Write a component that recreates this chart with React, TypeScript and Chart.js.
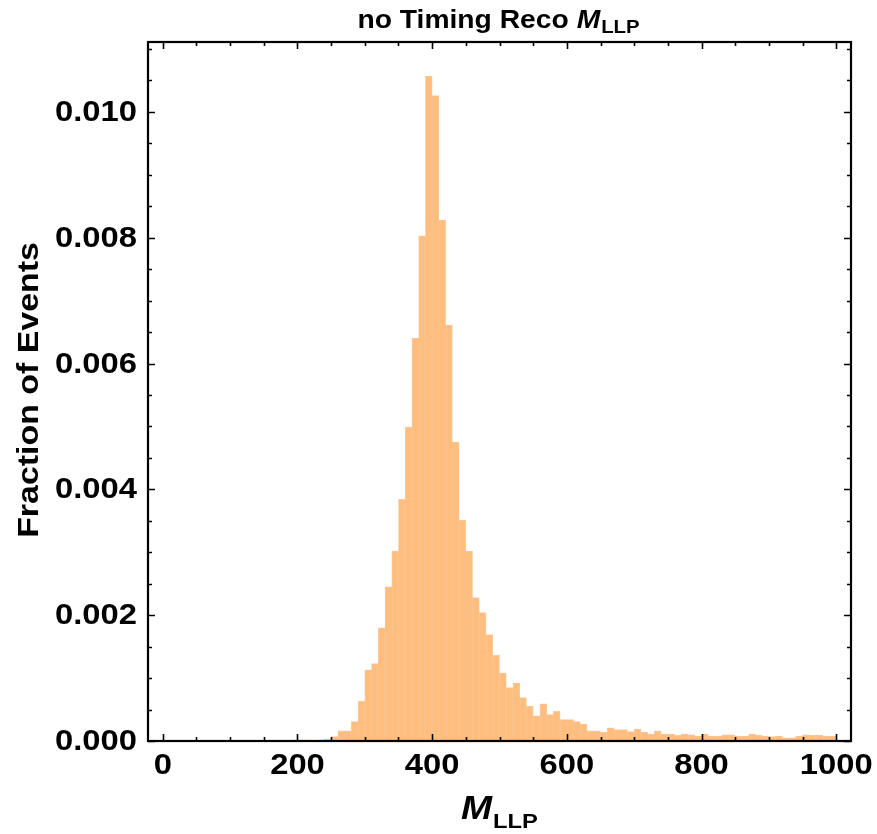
import React, { useEffect, useRef } from "react";
import { Chart, registerables } from "chart.js";

Chart.register(...registerables);

// Histogram bins: width 10, starting at FIRST_BIN
const BIN_WIDTH = 10;
const FIRST_BIN = 190;
const FRACTIONS = [
  0.00002, 0.00002, 0.00002, 0.0, 0.00002, 0.00003, 0.00007, 0.00016, 0.00016, 0.00031,
  0.00063, 0.00113, 0.00123, 0.0018, 0.00245, 0.00302, 0.00384, 0.00499, 0.0064, 0.00803,
  0.01057, 0.01026, 0.00828, 0.00661, 0.00475, 0.00351, 0.00302, 0.00228, 0.00204, 0.00169,
  0.00136, 0.00108, 0.00085, 0.00092, 0.00069, 0.00055, 0.0004, 0.00059, 0.00042, 0.00047,
  0.00034, 0.00034, 0.00031, 0.00027, 0.00016, 0.00016, 0.00014, 0.00021, 0.00018, 0.00018,
  0.00015, 0.00019, 0.00014, 0.00011, 0.00016, 0.00011, 0.00011, 0.00009, 0.00011, 0.0001,
  0.00008, 0.00011, 0.00008, 0.00008, 0.0001, 0.0001, 0.00008, 0.00008, 0.00011, 0.00009,
  0.00008, 0.00007, 0.00008, 0.00005, 0.00005, 0.00008, 0.0001, 0.00009, 0.00009, 0.00008,
  0.00008,
];

const X_TICKS = [0, 200, 400, 600, 800, 1000];
const Y_TICKS = [0, 0.002, 0.004, 0.006, 0.008, 0.01];
const X_MINOR_STEP = 50;
const Y_MINOR_STEP = 0.0005;

const TITLE_MAIN = "no Timing Reco ";
const SYM_M = "M";
const SYM_SUB = "LLP";
const Y_TITLE = "Fraction of Events";

const FONT = "'Liberation Sans', Arial, sans-serif";
const STRETCH = 1.13;

function stretchedText(ctx: CanvasRenderingContext2D, text: string, x: number, y: number, font: string, align: "left" | "right" | "center", sx: number) {
  ctx.save();
  ctx.font = font;
  const w = ctx.measureText(text).width * sx;
  let x0 = x;
  if (align === "center") x0 = x - w / 2;
  else if (align === "right") x0 = x - w;
  ctx.translate(x0, y);
  ctx.scale(sx, 1);
  ctx.textAlign = "left";
  ctx.fillText(text, 0, 0);
  ctx.restore();
  return w;
}

function measure(ctx: CanvasRenderingContext2D, text: string, font: string, sx: number) {
  ctx.save();
  ctx.font = font;
  const w = ctx.measureText(text).width * sx;
  ctx.restore();
  return w;
}

const framePlugin = {
  id: "mmaFrame",
  afterDatasetsDraw(chart: any) {
    const { ctx, chartArea, scales } = chart;
    const { left, right, top, bottom } = chartArea;
    const xs = scales.x;
    const ys = scales.y;
    ctx.save();
    ctx.fillStyle = "#000";
    ctx.strokeStyle = "#000";

    // ticks
    ctx.lineWidth = 1.6;
    const major = 7;
    const minor = 4;
    for (let v = 0; v <= 1000 + 1e-9; v += X_MINOR_STEP) {
      const px = Math.round(xs.getPixelForValue(v)) + 0.5;
      const len = X_TICKS.includes(v) ? major : minor;
      ctx.beginPath();
      ctx.moveTo(px, bottom);
      ctx.lineTo(px, bottom - len);
      ctx.moveTo(px, top);
      ctx.lineTo(px, top + len);
      ctx.stroke();
    }
    for (let i = 0; i <= 22; i++) {
      const v = i * Y_MINOR_STEP;
      const py = Math.round(ys.getPixelForValue(v)) + 0.5;
      if (py < top + 2) continue;
      const len = i % 4 === 0 ? major : minor;
      ctx.beginPath();
      ctx.moveTo(left, py);
      ctx.lineTo(left + len, py);
      ctx.moveTo(right, py);
      ctx.lineTo(right - len, py);
      ctx.stroke();
    }

    // frame
    ctx.lineWidth = 2.2;
    ctx.strokeRect(left, top, right - left, bottom - top);

    // tick labels
    const tickFont = `bold 29px ${FONT}`;
    ctx.textBaseline = "middle";
    for (const v of X_TICKS) {
      stretchedText(ctx, String(v), xs.getPixelForValue(v), bottom + 25, tickFont, "center", STRETCH);
    }
    for (const v of Y_TICKS) {
      stretchedText(ctx, v.toFixed(3), left - 11, ys.getPixelForValue(v) + 1, tickFont, "right", STRETCH);
    }

    // y title
    ctx.save();
    ctx.translate(30, 390);
    ctx.rotate(-Math.PI / 2);
    ctx.textBaseline = "middle";
    stretchedText(ctx, Y_TITLE, 0, 0, `bold 30px ${FONT}`, "center", STRETCH);
    ctx.restore();

    // x title: M_LLP
    ctx.textBaseline = "alphabetic";
    const mFont = `italic bold 33px ${FONT}`;
    const sFont = `bold 21px ${FONT}`;
    const wM = measure(ctx, SYM_M, mFont, STRETCH);
    const wS = measure(ctx, SYM_SUB, sFont, STRETCH);
    let xx = 499 - (wM + wS) / 2;
    stretchedText(ctx, SYM_M, xx, 819, mFont, "left", STRETCH);
    stretchedText(ctx, SYM_SUB, xx + wM + 1, 828, sFont, "left", STRETCH);

    // title
    const tFont = `bold 25px ${FONT}`;
    const tmFont = `italic bold 25px ${FONT}`;
    const tsFont = `bold 18px ${FONT}`;
    const w1 = measure(ctx, TITLE_MAIN, tFont, STRETCH);
    const w2 = measure(ctx, SYM_M, tmFont, STRETCH);
    const w3 = measure(ctx, SYM_SUB, tsFont, STRETCH);
    xx = 498 - (w1 + w2 + w3) / 2;
    stretchedText(ctx, TITLE_MAIN, xx, 28, tFont, "left", STRETCH);
    stretchedText(ctx, SYM_M, xx + w1, 28, tmFont, "left", STRETCH);
    stretchedText(ctx, SYM_SUB, xx + w1 + w2 + 1, 33, tsFont, "left", STRETCH);

    ctx.restore();
  },
};

export default function App() {
  const ref = useRef<HTMLCanvasElement>(null);
  useEffect(() => {
    if (!ref.current) return;
    const points = FRACTIONS.map((v, i) => ({ x: FIRST_BIN + i * BIN_WIDTH + BIN_WIDTH / 2, y: v }));
    const chart = new Chart(ref.current, {
      type: "bar",
      data: {
        datasets: [
          {
            data: points as any,
            backgroundColor: "rgb(255,190,125)",
            borderColor: "rgba(240,160,85,0.55)",
            borderWidth: 0.8,
            barPercentage: 1,
            categoryPercentage: 1,
          },
        ],
      },
      options: {
        responsive: false,
        animation: false,
        devicePixelRatio: 1,
        layout: { padding: { left: 0, top: 42, right: 26, bottom: 0 } },
        plugins: { legend: { display: false }, tooltip: { enabled: false }, title: { display: false } },
        scales: {
          x: {
            type: "linear",
            min: -22,
            max: 1022,
            offset: false,
            grid: { display: false, offset: false },
            border: { display: false },
            ticks: { display: false },
            afterFit: (s: any) => {
              s.height = 93;
            },
          },
          y: {
            type: "linear",
            min: 0,
            max: 0.01111,
            grid: { display: false },
            border: { display: false },
            ticks: { display: false },
            afterFit: (s: any) => {
              s.width = 148;
            },
          },
        },
      },
      plugins: [framePlugin],
    });
    return () => chart.destroy();
  }, []);
  return (
    <div style={{ position: "absolute", left: 0, top: 0, width: 877, height: 834, background: "#fff" }}>
      <canvas ref={ref} width={877} height={834} style={{ width: 877, height: 834, display: "block" }} />
    </div>
  );
}
